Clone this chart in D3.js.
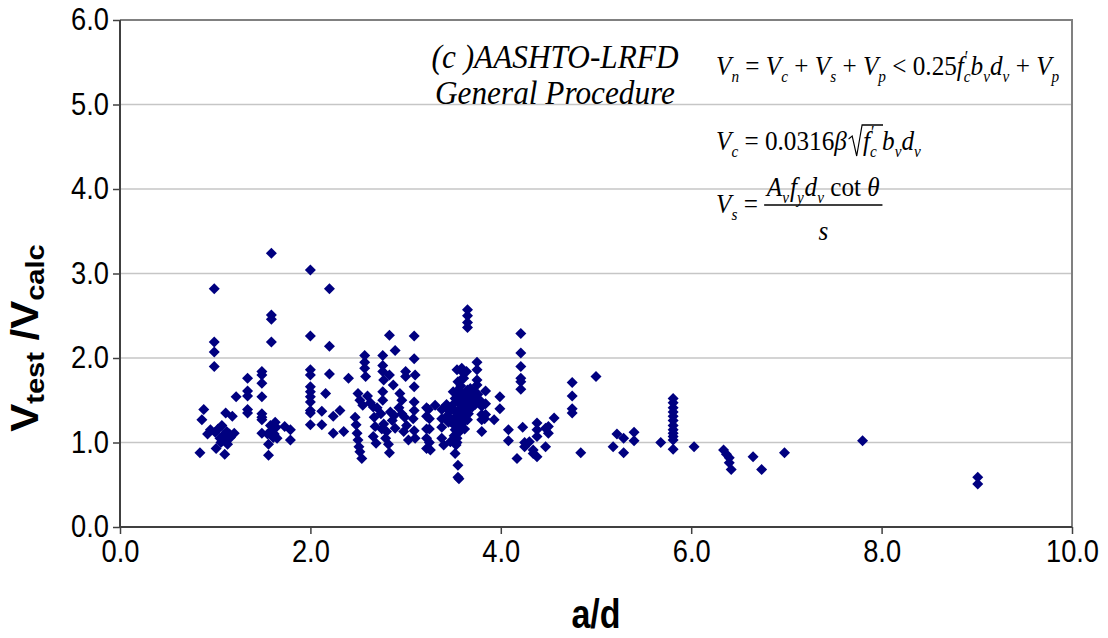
<!DOCTYPE html>
<html><head><meta charset="utf-8">
<script src="https://cdn.jsdelivr.net/npm/d3@7"></script>
<style>body{margin:0;background:#fff;} svg{display:block;}</style>
</head><body><svg id="c" width="1108" height="638"></svg>
<script>
// ---- data: [a/d, Vtest/Vcalc] ----
const groupA = [[0.84,0.88],[0.86,1.27],[0.88,1.39],[0.92,1.10],[0.95,1.15],[0.99,2.82],[0.99,2.19],[0.99,2.07],[0.99,1.90],[1.01,0.93],[1.00,1.12],[1.03,1.16],[1.05,1.05],[1.06,1.00],[1.07,1.20],[1.08,1.08],[1.10,0.86],[1.10,1.02],[1.11,1.35],[1.12,1.13],[1.13,0.98],[1.15,1.10],[1.18,1.31],[1.16,1.06],[1.20,1.11],[1.22,1.54]];
const groupB = [[1.34,1.76],[1.34,1.61],[1.34,1.55],[1.34,1.39],[1.34,1.35],[1.49,1.84],[1.49,1.80],[1.49,1.70],[1.49,1.54],[1.49,1.34],[1.49,1.30],[1.49,1.27],[1.49,1.11],[1.55,1.10],[1.56,0.98],[1.56,0.85],[1.59,3.24],[1.59,2.51],[1.59,2.46],[1.59,2.19],[1.58,1.20],[1.60,1.15],[1.61,1.06],[1.62,1.10],[1.63,1.24],[1.64,1.18],[1.65,1.05],[1.73,1.19],[1.79,1.15],[1.79,1.03]];
const groupC = [[2.00,3.04],[2.00,2.26],[2.00,1.86],[2.00,1.80],[2.00,1.66],[2.00,1.60],[2.00,1.54],[2.00,1.48],[2.00,1.38],[2.00,1.35],[2.00,1.21],[2.12,1.37],[2.12,1.21],[2.16,1.58],[2.20,2.82],[2.20,2.14],[2.20,1.81],[2.24,1.31],[2.24,1.11],[2.31,1.38],[2.35,1.13],[2.40,1.76]];
const groupD = [[2.47,1.30],[2.48,1.21],[2.49,1.11],[2.50,1.03],[2.51,0.95],[2.52,0.89],[2.54,0.81],[2.50,1.58],[2.52,1.50],[2.55,1.44],[2.57,2.03],[2.57,1.95],[2.57,1.88],[2.58,1.78],[2.60,1.55],[2.63,1.47],[2.66,1.42],[2.67,1.30],[2.68,1.19],[2.66,1.07],[2.69,0.99],[2.70,1.41],[2.74,1.34],[2.76,2.03],[2.76,1.91],[2.76,1.84],[2.77,1.74],[2.76,1.60],[2.76,1.50],[2.77,1.22],[2.75,1.16],[2.79,1.05],[2.80,1.13],[2.82,0.98],[2.83,2.27],[2.83,1.80],[2.83,0.88],[2.84,1.36],[2.86,1.26],[2.88,1.32],[2.89,1.17],[2.87,1.68],[2.89,2.09],[2.94,1.58],[2.96,1.50],[2.93,1.41],[2.96,1.34],[2.99,1.30],[3.01,1.20],[2.98,1.13],[3.03,1.03],[3.00,1.84],[3.00,1.78],[3.08,1.28],[3.09,1.14],[3.10,1.05],[3.09,2.26],[3.09,1.99],[3.10,1.80],[3.09,1.66],[3.09,1.48],[3.09,1.38]];
const groupE = [[3.22,1.41],[3.22,1.31],[3.22,1.16],[3.22,1.05],[3.22,0.93],[3.24,1.39],[3.25,1.28],[3.25,1.16],[3.25,1.00],[3.26,0.91],[3.31,1.44],[3.38,1.39],[3.38,1.28],[3.38,1.18],[3.38,1.05],[3.40,0.97],[3.43,1.42],[3.44,1.32],[3.45,1.24],[3.46,1.37],[3.47,1.25],[3.47,1.01],[3.43,1.45]];
const groupF = [[3.52,0.87],[3.53,0.97],[3.55,0.73],[3.55,0.59],[3.56,0.57],[3.54,1.00],[3.54,1.86],[3.59,1.88],[3.64,1.84],[3.55,1.72],[3.58,1.74],[3.60,1.83],[3.61,1.76],[3.58,1.67],[3.65,2.57],[3.65,2.50],[3.65,2.42],[3.65,2.36],[3.75,1.95],[3.75,1.86],[3.75,1.74],[3.75,1.68],[3.50,1.60],[3.52,1.52],[3.50,1.45],[3.51,1.38],[3.52,1.30],[3.50,1.22],[3.52,1.15],[3.51,1.08],[3.55,1.62],[3.56,1.55],[3.55,1.48],[3.57,1.40],[3.56,1.33],[3.55,1.26],[3.57,1.19],[3.56,1.12],[3.54,1.05],[3.60,1.58],[3.61,1.51],[3.60,1.44],[3.62,1.37],[3.61,1.30],[3.60,1.23],[3.62,1.16],[3.65,1.62],[3.66,1.55],[3.65,1.48],[3.67,1.41],[3.66,1.34],[3.65,1.27],[3.70,1.56],[3.71,1.49],[3.70,1.42],[3.72,1.60],[3.68,1.64],[3.74,1.52],[3.73,1.45],[3.76,1.57],[3.78,1.50],[3.80,1.43],[3.80,1.33],[3.80,1.27],[3.80,1.13],[3.84,1.61],[3.84,1.46],[3.84,1.33],[3.83,1.28],[3.93,1.27],[3.99,1.54],[3.99,1.40]];
const groupG = [[4.08,1.15],[4.08,1.02],[4.17,0.81],[4.21,2.29],[4.21,2.06],[4.21,1.90],[4.21,1.76],[4.21,1.72],[4.21,1.63],[4.23,1.18],[4.25,0.95],[4.25,1.00],[4.30,1.01],[4.34,0.91],[4.34,0.87],[4.38,1.23],[4.38,1.15],[4.38,1.07],[4.38,0.83],[4.47,1.17],[4.47,0.95],[4.50,1.19],[4.50,1.11],[4.56,1.29],[4.75,1.71],[4.75,1.55],[4.75,1.40],[4.75,1.35],[4.84,0.88],[5.00,1.78]];
const groupH = [[5.18,0.95],[5.22,1.10],[5.29,1.05],[5.29,0.88],[5.40,1.12],[5.40,1.02],[5.68,1.00],[5.81,1.52],[5.81,1.47],[5.81,1.41],[5.81,1.36],[5.81,1.31],[5.81,1.26],[5.81,1.20],[5.81,1.15],[5.81,1.11],[5.81,1.07],[5.81,1.03],[5.81,0.92],[6.03,0.95],[6.34,0.91],[6.37,0.86],[6.40,0.82],[6.40,0.76],[6.42,0.68],[6.65,0.83],[6.74,0.68],[6.98,0.88],[7.80,1.02],[9.01,0.59],[9.01,0.51]];
const xTicks = [0, 2, 4, 6, 8, 10];
const yTicks = [0, 1, 2, 3, 4, 5, 6];
const xTitle = "a/d";
const titleLines = ["(c )AASHTO-LRFD", "General Procedure"];

const points = [].concat(groupA, groupB, groupC, groupD, groupE, groupF, groupG, groupH);

const svg = d3.select("#c");
const x = d3.scaleLinear().domain([0, 10]).range([120, 1072]);
const y = d3.scaleLinear().domain([0, 6]).range([527, 20]);
const SANS = "'Liberation Sans', Arial, sans-serif";
const SERIF = "'Liberation Serif', 'Times New Roman', serif";
const SX = 0.88; // horizontal squeeze of lettering

// gridlines
svg.append("g").selectAll("line").data(yTicks.filter(d => d > 0 && d < 6)).join("line")
  .attr("x1", x(0)).attr("x2", x(10)).attr("y1", d => y(d)).attr("y2", d => y(d))
  .attr("stroke", "#c6c6c6").attr("stroke-width", 1.5);

// plot border (top/right)
svg.append("path").attr("d", `M${x(0)},${y(6)}H${x(10)}V${y(0)}`)
  .attr("fill", "none").attr("stroke", "#808080").attr("stroke-width", 2);

// axes
const fmt = d3.format(".1f");
const gx = svg.append("g").attr("transform", `translate(0,${y(0)})`)
  .call(d3.axisBottom(x).tickValues(xTicks).tickFormat(fmt).tickSizeInner(7).tickSizeOuter(0).tickPadding(6));
const gy = svg.append("g").attr("transform", `translate(${x(0)},0)`)
  .call(d3.axisLeft(y).tickValues(yTicks).tickFormat(fmt).tickSizeInner(7).tickSizeOuter(0).tickPadding(4));
[gx, gy].forEach(g => {
  g.select(".domain").attr("stroke", "#404040").attr("stroke-width", 2);
  g.selectAll(".tick line").attr("stroke", "#404040").attr("stroke-width", 1.5);
  g.selectAll(".tick text").attr("font-family", SANS).attr("font-size", 31).attr("fill", "#000")
    .attr("transform", `scale(${SX},1)`);
});
gy.selectAll(".tick text").attr("x", -11 / SX);
gx.select(".domain").attr("d", `M${x(0)},0H${x(10)}`);
gy.select(".domain").attr("d", `M0,${y(6)}V${y(0)}`);

// points
const r = 5.5;
svg.append("g").selectAll("path").data(points).join("path")
  .attr("transform", d => `translate(${x(d[0])},${y(d[1])})`)
  .attr("d", `M0,${-r}L${r},0L0,${r}L${-r},0Z`)
  .attr("fill", "#000080");

// axis titles
svg.append("text").attr("transform", `translate(${(x(0) + x(10)) / 2},628) scale(0.85,1)`).attr("text-anchor", "middle")
  .attr("font-family", SANS).attr("font-weight", "bold").attr("font-size", 40).text(xTitle);
const yt = svg.append("text").attr("transform", `translate(38,338) scale(0.92,1) rotate(-90)`).attr("text-anchor", "middle")
  .attr("font-family", SANS).attr("font-weight", "bold").attr("font-size", 42);
yt.append("tspan").text("V");
yt.append("tspan").attr("font-size", 29).attr("dy", 7).text("test");
yt.append("tspan").attr("dy", -7).text(" /");
yt.append("tspan").text("V");
yt.append("tspan").attr("font-size", 29).attr("dy", 7).text("calc");

// chart title
const tg = svg.append("g").attr("transform", `translate(555,0) scale(0.92,1)`);
tg.append("text").attr("x", 0).attr("y", 68).attr("text-anchor", "middle")
  .attr("font-family", SERIF).attr("font-style", "italic").attr("font-size", 34).text(titleLines[0]);
tg.append("text").attr("x", 0).attr("y", 104).attr("text-anchor", "middle")
  .attr("font-family", SERIF).attr("font-style", "italic").attr("font-size", 34).text(titleLines[1]);

// equations (drawn in a locally squeezed frame starting at x=716)
const FS = 28;
const EX = 716;
const eqG = svg.append("g").attr("transform", `translate(${EX},0) scale(0.9,1)`);
function mathText(g, x0, y0, parts) {
  const t = g.append("text").attr("x", x0).attr("y", y0).attr("font-family", SERIF).attr("font-size", FS);
  let cur = 0;
  parts.forEach(p => {
    const shift = p.sh || 0;
    const ts = t.append("tspan").text(p.t).attr("dy", shift - cur);
    cur = shift;
    if (p.i) ts.attr("font-style", "italic");
    if (p.s) ts.attr("font-size", p.s);
    if (p.dx) ts.attr("dx", p.dx);
  });
  return t;
}
const I = (t, dx) => ({ t, i: true, dx });
const N = (t) => ({ t });
const SUB = (t, dx) => ({ t, i: true, sh: 7, s: 17, dx });
const SUP = (t) => ({ t, sh: -11, s: 18, dx: 1 });

mathText(eqG, 0, 75, [I("V"), SUB("n"), N(" = "), I("V"), SUB("c"), N(" + "), I("V"), SUB("s"), N(" + "), I("V"), SUB("p"),
  N(" < 0.25"), I("f"), SUP("\u2032"), SUB("c", -5), I("b"), SUB("v"), I("d"), SUB("v"), N(" + "), I("V"), SUB("p")]);

// Vc equation with radical
const e2a = mathText(eqG, 0, 150, [I("V"), SUB("c"), N(" = 0.0316"), I("β")]);
const w2a = e2a.node().getComputedTextLength();
const rx = w2a + 2;
const e2b = mathText(eqG, rx + 16, 150, [I("f"), SUP("\u2032"), SUB("c", -5)]);
const w2b = e2b.node().getComputedTextLength();
eqG.append("path").attr("d", `M${rx},139 L${rx + 4},136 L${rx + 9},156 L${rx + 15},125 H${rx + 16 + w2b + 3}`)
  .attr("fill", "none").attr("stroke", "#000").attr("stroke-width", 1.3);
mathText(eqG, rx + 16 + w2b + 2, 150, [I("b"), SUB("v"), I("d"), SUB("v")]);

// Vs equation with fraction
const e3a = mathText(eqG, 0, 213, [I("V"), SUB("s"), N(" =")]);
const w3a = e3a.node().getComputedTextLength();
const num = mathText(eqG, 0, 196, [I("A"), SUB("v"), I("f", 1), SUB("y"), I("d", 1), SUB("v"), N(" cot "), I("θ")]);
const wn = num.node().getComputedTextLength();
const fx0 = w3a + 7;
num.attr("x", fx0 + 3);
eqG.append("line").attr("x1", fx0).attr("x2", fx0 + wn + 8).attr("y1", 205).attr("y2", 205)
  .attr("stroke", "#000").attr("stroke-width", 1.3);
mathText(eqG, fx0 + (wn + 8) / 2, 240, [I("s")]).attr("text-anchor", "middle");
</script>
</body></html>
